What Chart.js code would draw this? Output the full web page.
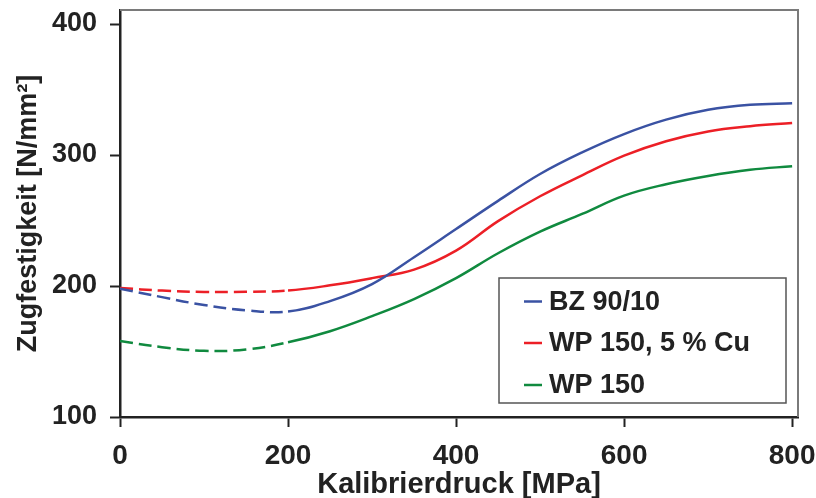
<!DOCTYPE html>
<html>
<head>
<meta charset="utf-8">
<script src="https://cdn.jsdelivr.net/npm/chart.js@4.4.1/dist/chart.umd.min.js"></script>
<style>
    html, body { margin: 0; padding: 0; background: #fff; }
    #wrap { width: 816px; height: 498px; }
</style>
</head>
<body>
<div id="wrap"><canvas id="chart1" width="816" height="498"></canvas></div>
<script>
/***  Zugfestigkeit vs. Kalibrierdruck  ***/
var pressure = [0, 50, 100, 150, 200, 250, 300, 350, 400, 450, 500, 550, 600, 650, 700, 750, 800];
var bz9010   = [198, 191.5, 185.5, 181.5, 180.5, 188.5, 201.5, 222, 243.5, 265, 285.5, 302, 316, 327, 334.5, 338.3, 339.5];
var wp150cu  = [198.5, 196.5, 195.5, 195.6, 196.5, 200.5, 206, 212.5, 227, 249.5, 268.5, 284.5, 299.5, 310.5, 318, 322, 324.5];
var wp150    = [158, 153.3, 150.5, 151.5, 157, 165.5, 177, 190, 206, 225, 241.5, 255, 269, 277.7, 284, 288.7, 291.5];
var seriesNames = ['BZ 90/10', 'WP 150, 5 % Cu', 'WP 150'];
var xTicks = [0, 200, 400, 600, 800];
var yTicks = [100, 200, 300, 400];
var dashEnd = 200;   // measured part ends here, rest is solid

var colors = ['#3a52a3', '#ec1f26', '#108a3f'];
var fontFam = "'Liberation Sans', Arial, Helvetica, sans-serif";

function toPoints(vals) {
    var pts = [];
    for (var i = 0; i < pressure.length; i++) {
        pts.push({ x: pressure[i], y: vals[i] });
    }
    return pts;
}

function makeSet(idx, vals) {
    return {
        label: seriesNames[idx],
        data: toPoints(vals),
        borderColor: colors[idx],
        backgroundColor: colors[idx],
        borderWidth: 2.5,
        pointRadius: 0,
        fill: false,
        tension: 0.4,
        segment: {
            borderDash: function (ctx) {
                return ctx.p1.parsed.x <= dashEnd ? [13, 6] : undefined;
            }
        }
    };
}

/* Rahmen oben/rechts */
var framePlugin = {
    id: 'frame',
    afterDraw: function (chart) {
        var a = chart.chartArea, c = chart.ctx;
        c.save();
        c.strokeStyle = '#7a7a7a';
        c.lineWidth = 2;
        c.beginPath();
        c.moveTo(a.left, a.top);
        c.lineTo(a.right, a.top);
        c.lineTo(a.right, a.bottom);
        c.stroke();
        c.restore();
    }
};

/* Legende im Diagramm */
var legendPlugin = {
    id: 'boxLegend',
    afterDraw: function (chart) {
        var c = chart.ctx;
        var sets = chart.data.datasets;
        c.save();
        c.fillStyle = '#fff';
        c.fillRect(499, 278, 287, 125);
        c.strokeStyle = '#555';
        c.lineWidth = 1.5;
        c.strokeRect(499, 278, 287, 125);
        c.font = 'bold 27px ' + fontFam;
        c.textBaseline = 'middle';
        c.textAlign = 'left';
        var rows = [301.5, 343, 385];
        for (var i = 0; i < sets.length; i++) {
            c.strokeStyle = sets[i].borderColor;
            c.lineWidth = 2.5;
            c.beginPath();
            c.moveTo(524, rows[i]);
            c.lineTo(542, rows[i]);
            c.stroke();
            c.fillStyle = '#222';
            c.fillText(sets[i].label, 549, rows[i] + 1);
        }
        c.restore();
    }
};

$ready();

function $ready() {
    var ctx1 = document.getElementById('chart1').getContext('2d');
    var myChart = new Chart(ctx1, {
        type: 'line',
        data: {
            datasets: [makeSet(0, bz9010), makeSet(1, wp150cu), makeSet(2, wp150)]
        },
        options: {
            responsive: false,
            animation: false,
            layout: { padding: { top: 10, right: 18, left: 0, bottom: 0 } },
            plugins: {
                legend: { display: false },
                tooltip: { enabled: false }
            },
            scales: {
                x: {
                    type: 'linear',
                    min: 0,
                    max: 807,
                    afterBuildTicks: function (scale) {
                        scale.ticks = xTicks.map(function (v) { return { value: v }; });
                    },
                    afterFit: function (scale) {
                        scale.height = 81;
                        scale.paddingLeft = 0;
                        scale.paddingRight = 0;
                    },
                    grid: {
                        drawOnChartArea: false,
                        drawTicks: true,
                        tickLength: 10,
                        tickColor: '#222',
                        tickWidth: 2
                    },
                    border: { display: true, color: '#222', width: 2.5 },
                    ticks: {
                        color: '#222',
                        padding: 12,
                        maxRotation: 0,
                        font: { family: fontFam, size: 28, weight: 'bold' }
                    },
                    title: {
                        display: true,
                        text: 'Kalibrierdruck [MPa]',
                        color: '#222',
                        padding: { top: 0, bottom: 0 },
                        font: { family: fontFam, size: 29, weight: 'bold', lineHeight: 0.9 }
                    }
                },
                y: {
                    type: 'linear',
                    min: 100,
                    max: 410.7,
                    afterBuildTicks: function (scale) {
                        scale.ticks = yTicks.map(function (v) { return { value: v }; });
                    },
                    afterFit: function (scale) {
                        scale.width = 120;
                        scale.paddingTop = 0;
                        scale.paddingBottom = 0;
                    },
                    grid: {
                        drawOnChartArea: false,
                        drawTicks: true,
                        tickLength: 10,
                        tickColor: '#222',
                        tickWidth: 2
                    },
                    border: { display: true, color: '#222', width: 2.5 },
                    ticks: {
                        color: '#222',
                        padding: 13,
                        font: { family: fontFam, size: 27, weight: 'bold' }
                    },
                    title: {
                        display: true,
                        text: 'Zugfestigkeit [N/mm²]',
                        color: '#222',
                        padding: { top: 12, bottom: 0 },
                        font: { family: fontFam, size: 27, weight: 'bold' }
                    }
                }
            }
        },
        plugins: [framePlugin, legendPlugin]
    });
}
</script>
</body>
</html>
